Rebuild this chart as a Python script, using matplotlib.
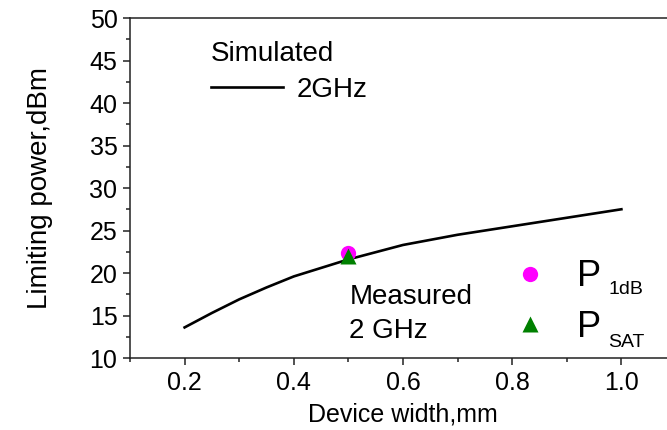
import matplotlib
matplotlib.use("Agg")
import matplotlib.pyplot as plt
from matplotlib.lines import Line2D
from matplotlib.ticker import MultipleLocator, FormatStrFormatter

plt.rcParams['font.family'] = ['Liberation Sans', 'DejaVu Sans']

# simulated limiting power at 2 GHz vs device width
width_mm = [0.2, 0.25, 0.3, 0.35, 0.4, 0.5, 0.6, 0.7, 0.8, 0.9, 1.0]
sim_2ghz = [13.6, 15.3, 16.9, 18.3, 19.6, 21.6, 23.3, 24.5, 25.5, 26.5, 27.5]

# measured points at 2 GHz
meas_width = [0.5]
p1db = [22.3]
psat = [22.0]

fig = plt.figure(figsize=(6.67, 4.30), dpi=100)
ax = fig.add_axes([0.1949, 0.1674, 0.8186, 0.7907])

ax.plot(width_mm, sim_2ghz, color='black', lw=1.9)
ax.plot(meas_width, p1db, 'o', color='#ff00ff', ms=11, mec='none')
ax.plot(meas_width, psat, '^', color='#008000', ms=12, mec='none')

ax.set_xlim(0.1, 1.1)
ax.set_ylim(10, 50)
ax.xaxis.set_major_locator(MultipleLocator(0.2))
ax.xaxis.set_minor_locator(MultipleLocator(0.1))
ax.xaxis.set_major_formatter(FormatStrFormatter('%.1f'))
ax.yaxis.set_major_locator(MultipleLocator(5))
ax.yaxis.set_minor_locator(MultipleLocator(2.5))
ax.tick_params(which='major', length=5, width=1.1, labelsize=18, color='#222222')
ax.tick_params(which='minor', length=3, width=1.1, color='#222222')
ax.tick_params(axis='x', pad=4)
ax.tick_params(axis='y', pad=4)
for s in ax.spines.values():
    s.set_linewidth(1.1)
    s.set_color('#222222')
ax.spines['right'].set_visible(False)

ax.set_xlabel('Device width,mm', fontsize=18, labelpad=6)
ax.set_ylabel('Limiting power,dBm', fontsize=20, labelpad=26)

# simulated legend
sim_leg = ax.legend([Line2D([], [], color='black', lw=1.9)], ['2GHz'],
                    title='Simulated', alignment='left', frameon=False,
                    fontsize=20, title_fontsize=20, handlelength=2.6,
                    handletextpad=0.5, borderpad=0, borderaxespad=0,
                    labelspacing=0.35,
                    loc='upper left', bbox_to_anchor=(0.248, 47.3),
                    bbox_transform=ax.transData)
ax.add_artist(sim_leg)

# measured legend
ax.text(0.502, 16.3, 'Measured', fontsize=20, ha='left', va='baseline')
ax.text(0.502, 12.4, '2 GHz', fontsize=20, ha='left', va='baseline')

handles = [Line2D([], [], ls='none', marker='o', color='#ff00ff', ms=11, mec='none'),
           Line2D([], [], ls='none', marker='^', color='#008000', ms=12, mec='none')]
meas_leg = ax.legend(handles, ['P', 'P'], frameon=False, fontsize=26,
                     handlelength=1.0, handletextpad=0.8, borderpad=0,
                     borderaxespad=0, labelspacing=0.42,
                     loc='upper left', bbox_to_anchor=(0.80, 21.6),
                     bbox_transform=ax.transData)
texts = meas_leg.get_texts()
ax.annotate('1dB', xy=(1, 0), xycoords=texts[0], xytext=(5, 0),
            textcoords='offset points', fontsize=14, ha='left', va='baseline',
            zorder=6)
ax.annotate('SAT', xy=(1, 0), xycoords=texts[1], xytext=(5, -2),
            textcoords='offset points', fontsize=14, ha='left', va='baseline',
            zorder=6)

fig.canvas.draw()
fig.savefig('out.png', dpi=100)
